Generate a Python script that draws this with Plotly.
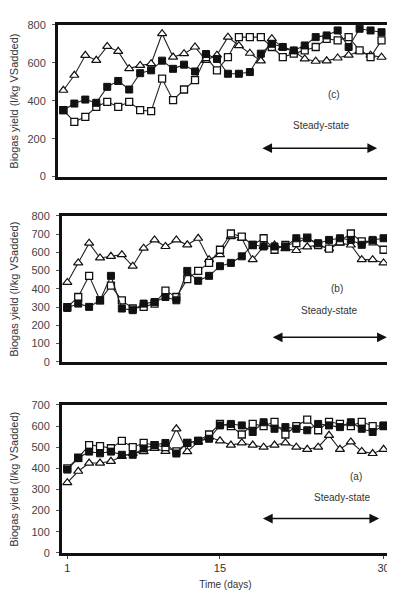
import plotly.graph_objects as go

days = list(range(1, 31))

# Panel (c)
c_filled = [350, 385, 406, 389, 473, 504, 459, 545, 560, 611, 568, 590, 554, 646, 620,
            542, 542, 551, 648, 700, 683, 665, 691, 735, 744, 770, 683, 779, 770, 761]
c_open = [350, 289, 315, 368, 394, 368, 394, 350, 345, 516, 403, 459, 508, 630, 560,
          630, 735, 735, 735, 683, 630, 648, 665, 683, 726, 718, 735, 665, 630, 718]
c_tri = [455, 534, 639, 613, 686, 660, 569, 586, 595, 753, 630, 648, 683, 613, 640,
         735, 690, 650, 610, 727, 680, 660, 620, 608, 610, 625, 640, 660, 640, 629]

# Panel (b)
b_filled = [295, 319, 301, 337, 471, 292, 283, 319, 328, 355, 337, 498, 444, 471, 524,
            542, 578, 641, 632, 632, 632, 677, 677, 650, 668, 677, 668, 641, 668, 677]
b_open = [300, 355, 471, 337, 417, 337, 292, 301, 319, 390, 355, 453, 498, 542, 614,
          703, 686, 640, 677, 614, 640, 650, 680, 640, 620, 660, 703, 660, 660, 614]
b_tri = [435, 542, 650, 569, 578, 587, 524, 623, 668, 632, 668, 641, 677, 560, 587,
         686, 677, 560, 632, 640, 620, 610, 630, 640, 620, 650, 640, 560, 560, 542]

# Panel (a)
a_filled = [394, 448, 479, 471, 479, 464, 464, 494, 510, 520, 470, 520, 530, 540, 603,
            610, 603, 572, 618, 587, 595, 587, 580, 610, 603, 595, 618, 587, 572, 603]
a_open = [400, 450, 510, 505, 495, 530, 500, 520, 510, 500, 480, 520, 530, 560, 610,
          600, 560, 610, 600, 620, 560, 600, 630, 580, 620, 610, 600, 620, 600, 600]
a_tri = [332, 386, 425, 425, 433, 456, 471, 479, 494, 480, 587, 479, 525, 548, 530,
         510, 520, 510, 500, 510, 520, 500, 490, 500, 556, 490, 525, 480, 470, 490]

panel_labels = ["(c)", "(b)", "(a)"]
x_ticks = [1, 15, 30]
ytitle = "Biogas yield (l/kg VSadded)"

# page has an 8px body margin: figure drawn 8px right/down of the window origin
W, H, OFF = 387, 592, 8


def xd(a, b):
    return [(a - OFF) / W, (b - OFF) / W]


def yd(top, bot):
    return [1 - (bot - OFF) / H, 1 - (top - OFF) / H]


panels = [
    dict(filled=c_filled, open=c_open, tri=c_tri, yr=[0, 800], dt=200,
         xdom=xd(58, 388), ydom=yd(19, 174),
         lab=(25.7, 434), ss=(24.5, 268), arr=(19.0, 29.6, 150)),
    dict(filled=b_filled, open=b_open, tri=b_tri, yr=[0, 800], dt=100,
         xdom=xd(62, 390), ydom=yd(214, 363),
         lab=(25.7, 403), ss=(25.0, 279), arr=(19.7, 30.3, 134)),
    dict(filled=a_filled, open=a_open, tri=a_tri, yr=[0, 700], dt=100,
         xdom=xd(62, 390), ydom=yd(407, 558),
         lab=(27.5, 362), ss=(26.2, 260), arr=(18.8, 29.6, 162)),
]

fig = go.Figure()
font = "Liberation Sans, Arial, sans-serif"
annotations = []
layout = {}

for i, p in enumerate(panels):
    n = i + 1
    xa = "x" if n == 1 else f"x{n}"
    ya = "y" if n == 1 else f"y{n}"
    xkey = "xaxis" if n == 1 else f"xaxis{n}"
    ykey = "yaxis" if n == 1 else f"yaxis{n}"
    line = dict(color="#222", width=1.1)
    fig.add_trace(go.Scatter(x=days, y=p["tri"], xaxis=xa, yaxis=ya, mode="lines+markers",
                             line=line, marker=dict(symbol="triangle-up", size=8, color="white",
                                                    line=dict(color="#111", width=1.2))))
    fig.add_trace(go.Scatter(x=days, y=p["open"], xaxis=xa, yaxis=ya, mode="lines+markers",
                             line=line, marker=dict(symbol="square", size=7, color="white",
                                                    line=dict(color="#111", width=1.3))))
    fig.add_trace(go.Scatter(x=days, y=p["filled"], xaxis=xa, yaxis=ya, mode="lines+markers",
                             line=line, marker=dict(symbol="square", size=7, color="#111",
                                                    line=dict(color="#111", width=1))))
    last = (n == 3)
    layout[xkey] = dict(domain=p["xdom"], range=[0.5, 30.5], anchor=ya,
                        showline=True, linecolor="#111", linewidth=2.8, mirror=True,
                        showgrid=False, zeroline=False,
                        tickmode="array", tickvals=x_ticks if last else [],
                        ticks="outside" if last else "", ticklen=3,
                        showticklabels=last,
                        tickfont=dict(family=font, size=11, color="#333"),
                        title=dict(text="Time (days)" if last else "",
                                   font=dict(family=font, size=10, color="#333"), standoff=9))
    layout[ykey] = dict(domain=p["ydom"], range=p["yr"], anchor=xa, dtick=p["dt"],
                        showline=True, linecolor="#111", linewidth=2.8, mirror=True,
                        showgrid=False, zeroline=False, ticks="outside", ticklen=3,
                        tickcolor="#555", ticklabelstandoff=4,
                        tickfont=dict(family=font, size=11, color="#444"))
    # y axis title placed as rotated text
    annotations.append(dict(x=(14 - OFF) / W, y=sum(p["ydom"]) / 2, xref="paper", yref="paper",
                            text=ytitle, textangle=-90, showarrow=False,
                            xanchor="center", yanchor="middle",
                            font=dict(family=font, size=11, color="#333")))
    annotations.append(dict(x=p["lab"][0], y=p["lab"][1], xref=xa, yref=ya, text=panel_labels[i],
                            showarrow=False, font=dict(family=font, size=10, color="#333")))
    annotations.append(dict(x=p["ss"][0], y=p["ss"][1], xref=xa, yref=ya, text="Steady-state",
                            showarrow=False, font=dict(family=font, size=10, color="#333")))
    x0, x1, yy = p["arr"]
    annotations.append(dict(x=x1, y=yy, ax=x0, ay=yy, xref=xa, yref=ya, axref=xa, ayref=ya,
                            text="", showarrow=True, arrowside="end+start", arrowhead=2,
                            startarrowhead=2, arrowsize=1.3, startarrowsize=1.3,
                            arrowwidth=1.5, arrowcolor="#111"))

fig.update_layout(**layout)
fig.update_layout(width=W, height=H, showlegend=False,
                  margin=dict(l=0, r=0, t=0, b=0),
                  paper_bgcolor="white", plot_bgcolor="white",
                  annotations=annotations)
fig.write_html("out.html")
